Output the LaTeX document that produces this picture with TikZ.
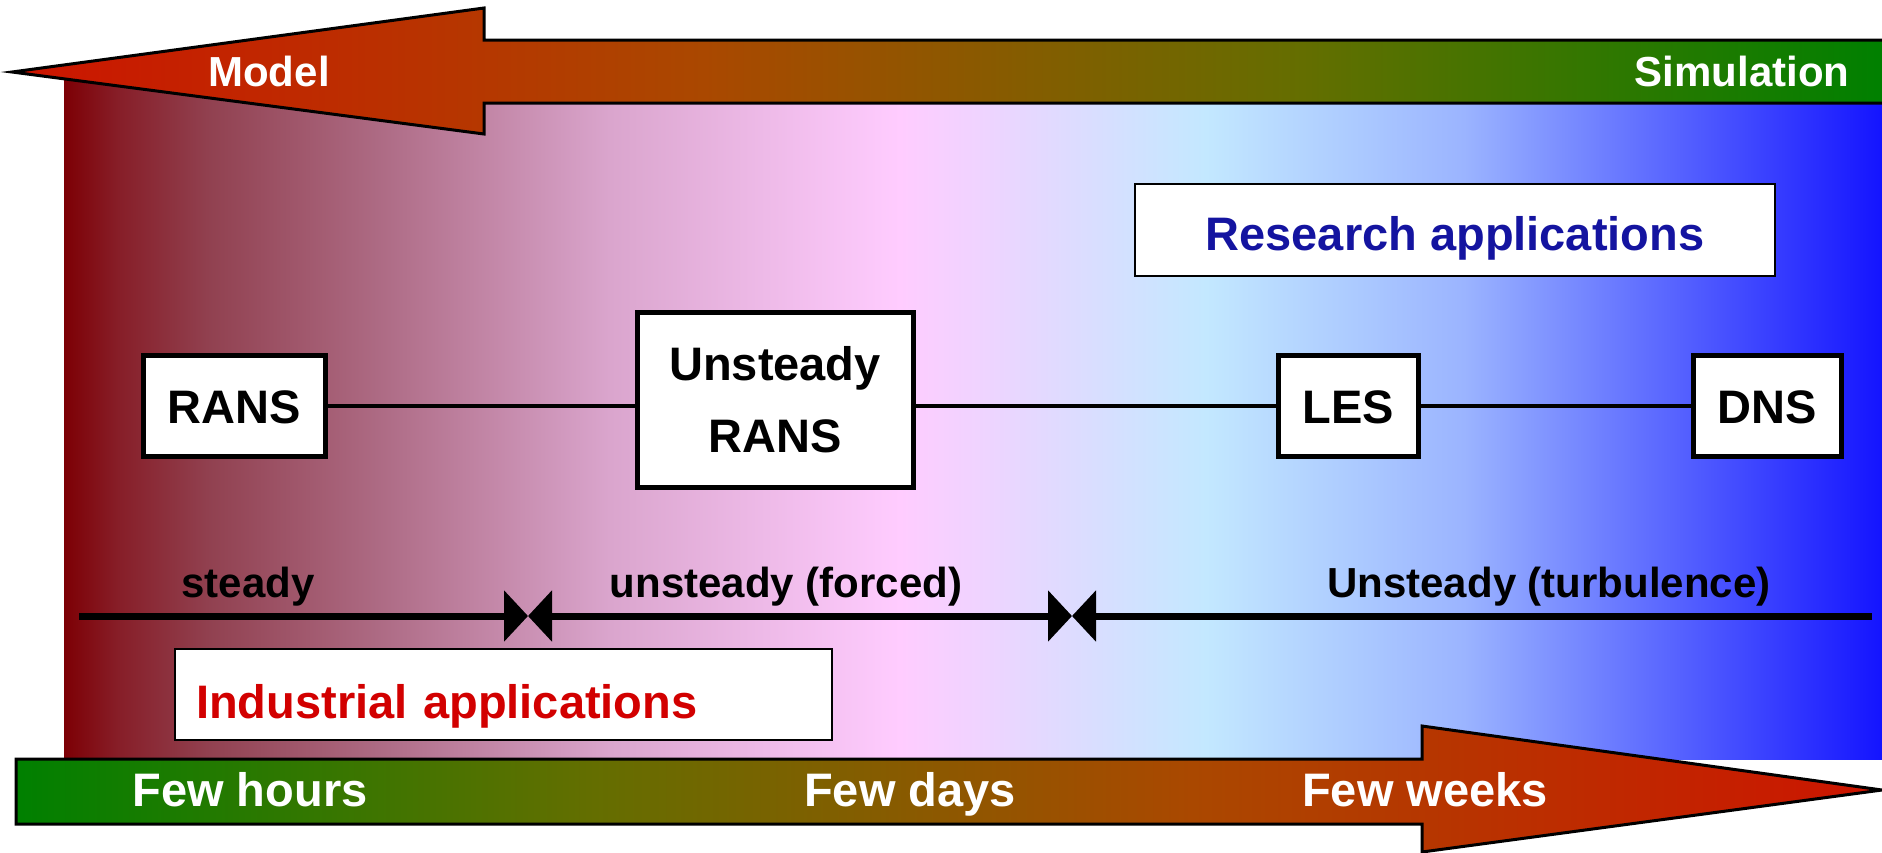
\documentclass[tikz,border=0pt]{standalone}
\usepackage{fontspec}
\setmainfont{Liberation Sans}
\usetikzlibrary{arrows.meta}
\definecolor{bgA}{RGB}{125,0,5}
\definecolor{bgA1}{RGB}{135,30,40}
\definecolor{bgA2}{RGB}{145,65,80}
\definecolor{bgA3}{RGB}{172,105,130}
\definecolor{bgA4}{RGB}{218,165,205}
\definecolor{bgB}{RGB}{255,204,255}
\definecolor{bgC}{RGB}{195,232,255}
\definecolor{bgC1}{RGB}{155,180,255}
\definecolor{bgD}{RGB}{20,20,255}
\definecolor{arR}{RGB}{205,20,0}
\definecolor{arO}{RGB}{170,72,0}
\definecolor{arL}{RGB}{100,110,0}
\definecolor{arG}{RGB}{0,128,0}
\definecolor{resblue}{RGB}{20,20,160}
\definecolor{indred}{RGB}{210,0,0}
\pgfdeclarehorizontalshading{bgshade}{100bp}{color(0bp)=(bgA); color(25bp)=(bgA); color(26.5bp)=(bgA1); color(29bp)=(bgA2); color(33.5bp)=(bgA3); color(40bp)=(bgA4); color(48bp)=(bgB); color(56.4bp)=(bgC); color(63.5bp)=(bgC1); color(75bp)=(bgD); color(100bp)=(bgD)}
\pgfdeclarehorizontalshading{modelshade}{100bp}{color(0bp)=(arR); color(25bp)=(arR); color(43.5bp)=(arO); color(59.5bp)=(arL); color(75bp)=(arG); color(100bp)=(arG)}
\pgfdeclarehorizontalshading{timeshade}{100bp}{color(0bp)=(arG); color(25bp)=(arG); color(40.5bp)=(arL); color(56.5bp)=(arO); color(75bp)=(arR); color(100bp)=(arR)}
\begin{document}
\begin{tikzpicture}[x=1pt,y=-1pt,
  big/.style={font=\fontsize{47}{56}\selectfont\bfseries},
  small/.style={font=\fontsize{42}{50}\selectfont\bfseries},
  methodbox/.style={draw=black, line width=5pt, fill=white, inner sep=0pt, big},
  oneline/.style={text height=35pt, text depth=0pt},
  appbox/.style={draw=black, line width=2pt, fill=white, inner sep=0pt, big},
  conn/.style={line width=4pt},
  tri/.tip={Triangle[length=24pt,width=50pt]},
  axisline/.style={line width=7pt},
  arrowout/.style={line width=3pt, line join=miter},
]
\useasboundingbox (0,0) rectangle (1882,852);
% background gradient
\path[shading=bgshade] (64,72) rectangle (1882,759);
% top arrow: Model <-> Simulation
\path[shading=modelshade] (12,72) -- (484,8) -- (484,40) -- (1882,40) -- (1882,103) -- (484,103) -- (484,134) -- cycle;
\draw[arrowout] (1882,40) -- (484,40) -- (484,8) -- (12,72) -- (484,134) -- (484,103) -- (1882,103);
\node[small, text=white, anchor=base] (model) at (269,86) {Model};
\node[small, text=white, anchor=base] (sim) at (1742,86) {Simulation};
% bottom arrow: time
\path[shading=timeshade] (16,759) -- (1422,759) -- (1422,726) -- (1882,790) -- (1422,852) -- (1422,824) -- (16,824) -- cycle;
\draw[arrowout] (16,759) -- (1422,759) -- (1422,726) -- (1882,790) -- (1422,852) -- (1422,824) -- (16,824) -- cycle;
\node[big, text=white, anchor=base] (hours) at (250,806) {Few hours};
\node[big, text=white, anchor=base] (days) at (910,806) {Few days};
\node[big, text=white, anchor=base] (weeks) at (1425,806) {Few weeks};
% application boxes
\node[appbox, text=resblue, minimum width=640pt, minimum height=92pt, text height=40pt, text depth=0pt] (res) at (1455,230) {Research applications};
\node[appbox, text=indred, text width=615pt, inner xsep=21pt, align=left, minimum height=91pt, text height=47pt, text depth=0pt] (ind) at (503.5,694.5) {Industrial applications};
% methods
\node[methodbox, oneline, minimum width=182pt, minimum height=101pt] (rans) at (234,405.5) {RANS};
\node[methodbox, minimum width=276pt, minimum height=175pt, align=center, font=\fontsize{47}{72}\selectfont\bfseries] (urans) at (775,399.5) {Unsteady\\RANS};
\node[methodbox, oneline, minimum width=140pt, minimum height=101pt] (les) at (1348,405.5) {LES};
\node[methodbox, oneline, minimum width=148pt, minimum height=101pt] (dns) at (1767,405.5) {DNS};
\draw[conn] (rans.east) -- (rans.east -| urans.west);
\draw[conn] (urans.east |- les.west) -- (les.west);
\draw[conn] (les.east) -- (dns.west);
% regime axis
\coordinate (axL) at (79,616);
\coordinate (m1) at (528,616);
\coordinate (m2) at (1072,616);
\coordinate (axR) at (1872,616);
\draw[axisline, -tri] (axL) -- (m1);
\draw[axisline, tri-tri] (m1) -- (m2);
\draw[axisline, tri-] (m2) -- (axR);
\node[small, anchor=base] (lsteady) at (248,597) {steady};
\node[small, anchor=base] (lforced) at (786,597) {unsteady (forced)};
\node[small, anchor=base] (lturb) at (1549,597) {Unsteady (turbulence)};
\end{tikzpicture}
\end{document}
